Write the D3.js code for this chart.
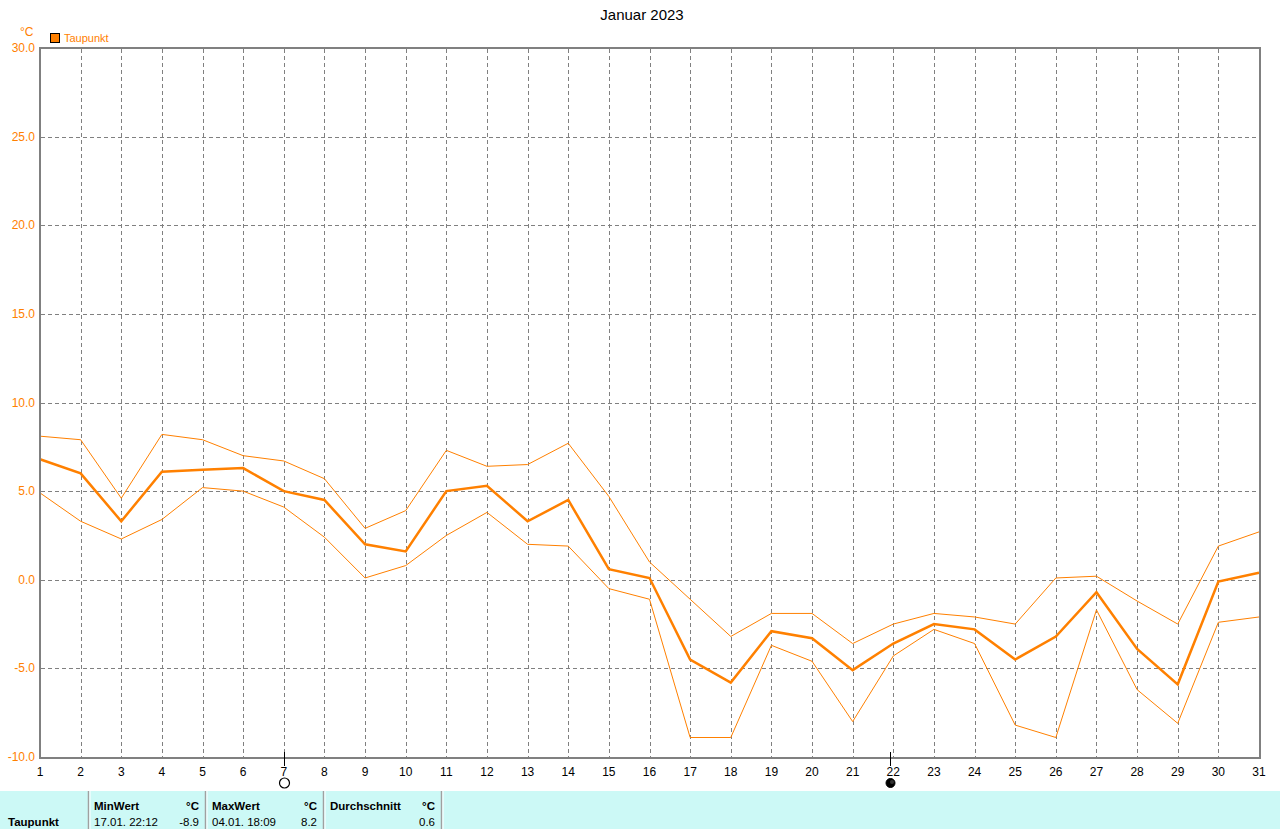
<!DOCTYPE html>
<html><head><meta charset="utf-8">
<script src="https://cdn.jsdelivr.net/npm/d3@7"></script>
<style>body{margin:0;background:#fff;} svg{display:block;} text{font-family:"Liberation Sans",Arial,sans-serif;}</style>
</head><body><svg id="c" width="1280" height="829"></svg>
<script>
const days = d3.range(1, 32);
const dewMean = [6.8,6.0,3.3,6.1,6.2,6.3,5.0,4.5,2.0,1.6,5.0,5.3,3.3,4.5,0.6,0.1,-4.5,-5.8,-2.9,-3.3,-5.1,-3.6,-2.5,-2.8,-4.5,-3.2,-0.7,-3.9,-5.9,-0.1,0.4];
const dewMax  = [8.1,7.9,4.6,8.2,7.9,7.0,6.7,5.7,2.9,3.9,7.3,6.4,6.5,7.7,4.7,1.0,-1.1,-3.2,-1.9,-1.9,-3.6,-2.5,-1.9,-2.1,-2.5,0.1,0.2,-1.2,-2.5,1.9,2.7];
const dewMin  = [4.9,3.3,2.3,3.4,5.2,5.0,4.1,2.4,0.1,0.8,2.5,3.8,2.0,1.9,-0.5,-1.1,-8.9,-8.9,-3.7,-4.6,-8.0,-4.3,-2.8,-3.6,-8.2,-8.9,-1.7,-6.2,-8.1,-2.4,-2.1];
const yTicks = [30,25,20,15,10,5,0,-5,-10];
const moonPhases = [{day:7.0, type:"full"},{day:21.91, type:"new"}];
const title = "Januar 2023";
const seriesName = "Taupunkt";
const unit = "°C";
const stats = {minDate:"17.01.  22:12", minVal:"-8.9", maxDate:"04.01.  18:09", maxVal:"8.2", avg:"0.6"};

const ORANGE = "#ff8000", GRID = "#808080";
const svg = d3.select("#c");
const x = d3.scaleLinear().domain([1,31]).range([40,1259]);
const y = d3.scaleLinear().domain([-10,30]).range([757,48]);

svg.append("text").attr("x",642).attr("y",20).attr("text-anchor","middle").attr("font-size",15).attr("fill","#000").text(title);

// grid
const g = svg.append("g");
g.selectAll("line.v").data(days.slice(1,30)).enter().append("line")
 .attr("x1",d=>Math.round(x(d))+0.5).attr("x2",d=>Math.round(x(d))+0.5).attr("y1",49).attr("y2",757)
 .attr("stroke",GRID).attr("stroke-dasharray","4,3").attr("shape-rendering","crispEdges");
g.selectAll("line.h").data(yTicks.slice(1,8)).enter().append("line")
 .attr("y1",d=>Math.round(y(d))+0.5).attr("y2",d=>Math.round(y(d))+0.5).attr("x1",41).attr("x2",1259)
 .attr("stroke",GRID).attr("stroke-dasharray","4,3").attr("shape-rendering","crispEdges");

// y labels
svg.append("g").selectAll("text").data(yTicks).enter().append("text")
 .attr("x",35).attr("y",d=>y(d)+4).attr("text-anchor","end").attr("font-size",12).attr("fill",ORANGE)
 .text(d=>d.toFixed(1));
svg.append("text").attr("x",20).attr("y",36).attr("font-size",12).attr("fill",ORANGE).text(unit);

// legend
svg.append("rect").attr("x",50.5).attr("y",33.5).attr("width",9).attr("height",9).attr("fill",ORANGE).attr("stroke","#000");
svg.append("text").attr("x",64).attr("y",42).attr("font-size",11).attr("fill",ORANGE).text(seriesName);

// lines
const line = arr => d3.line().x((d,i)=>x(days[i])).y(d=>y(d))(arr);
svg.append("path").attr("d",line(dewMax)).attr("fill","none").attr("stroke",ORANGE).attr("stroke-width",1);
svg.append("path").attr("d",line(dewMin)).attr("fill","none").attr("stroke",ORANGE).attr("stroke-width",1);
svg.append("path").attr("d",line(dewMean)).attr("fill","none").attr("stroke",ORANGE).attr("stroke-width",2.5);

// frame
svg.append("rect").attr("x",40).attr("y",48).attr("width",1220).attr("height",710)
 .attr("fill","none").attr("stroke",GRID).attr("stroke-width",2);

// x labels
svg.append("g").selectAll("text").data(days).enter().append("text")
 .attr("x",d=>x(d)).attr("y",776).attr("text-anchor","middle").attr("font-size",12).attr("fill","#000").text(d=>d);

// moon
moonPhases.forEach(m=>{
  const mx = Math.round(x(m.day))+0.5;
  svg.append("line").attr("x1",mx).attr("x2",mx).attr("y1",752).attr("y2",766).attr("stroke","#000");
  if(m.type==="full"){
    svg.append("circle").attr("cx",mx).attr("cy",783).attr("r",5).attr("fill","#fff").attr("stroke","#000").attr("stroke-width",1.2);
  } else {
    svg.append("circle").attr("cx",mx).attr("cy",783).attr("r",4.5).attr("fill","#000").attr("stroke","#000");
    svg.append("circle").attr("cx",mx+1.5).attr("cy",782).attr("r",2).attr("fill","#333");
  }
});

// table
const T = svg.append("g");
T.append("rect").attr("x",0).attr("y",791).attr("width",1280).attr("height",38).attr("fill","#ccf9f6");
[88,205,323,441].forEach(sx=>{
  T.append("line").attr("x1",sx+0.5).attr("x2",sx+0.5).attr("y1",791).attr("y2",829).attr("stroke","#a0a0a0").attr("stroke-width",1.5);
  T.append("line").attr("x1",sx+2).attr("x2",sx+2).attr("y1",791).attr("y2",829).attr("stroke","#ffffff").attr("stroke-width",1);
});
const tt = (tx,ty,s,bold,anchor)=>T.append("text").attr("x",tx).attr("y",ty).attr("font-size",11.5)
  .attr("font-weight",bold?"bold":"normal").attr("text-anchor",anchor||"start").attr("fill","#000").text(s);
tt(8,826,seriesName,true);
tt(94,810,"MinWert",true); tt(199,810,unit,true,"end");
tt(94,826,stats.minDate,false); tt(199,826,stats.minVal,false,"end");
tt(212,810,"MaxWert",true); tt(317,810,unit,true,"end");
tt(212,826,stats.maxDate,false); tt(317,826,stats.maxVal,false,"end");
tt(330,810,"Durchschnitt",true); tt(435,810,unit,true,"end");
tt(435,826,stats.avg,false,"end");
</script></body></html>
